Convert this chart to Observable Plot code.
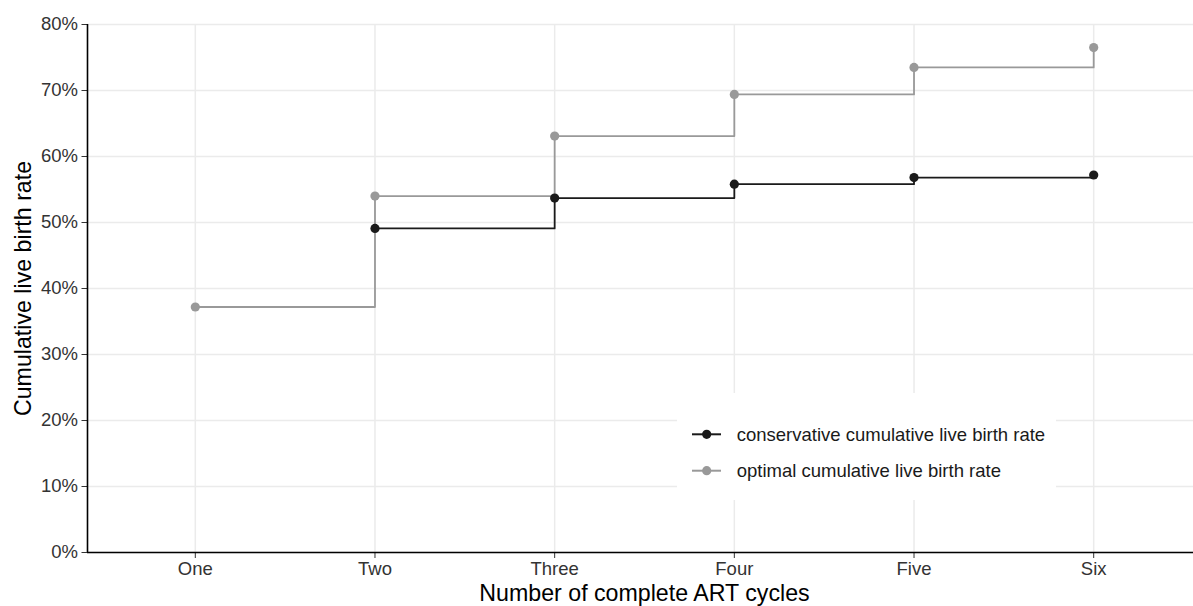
<!DOCTYPE html>
<html>
<head>
<meta charset="utf-8">
<script src="https://cdn.jsdelivr.net/npm/d3@7"></script>
<script src="https://cdn.jsdelivr.net/npm/@observablehq/plot@0.6"></script>
<style>
  html, body { margin: 0; padding: 0; background: #fff; }
  #wrap { position: relative; width: 1193px; height: 606px; overflow: hidden; font-family: "Liberation Sans", Arial, Helvetica, sans-serif; }
  #legend { position: absolute; left: 677px; top: 393px; }
</style>
</head>
<body>
<div id="wrap"></div>
<script>
// ---- data ----
const cycles = ["One", "Two", "Three", "Four", "Five", "Six"];
const conservative = [null, 0.491, 0.537, 0.558, 0.568, 0.572];
const optimal = [0.372, 0.540, 0.631, 0.694, 0.735, 0.765];
const seriesNames = ["conservative cumulative live birth rate", "optimal cumulative live birth rate"];
const seriesColors = ["#1a1a1a", "#999999"];
const yTicks = [0, 0.1, 0.2, 0.3, 0.4, 0.5, 0.6, 0.7, 0.8];
const xTitle = "Number of complete ART cycles";
const yTitle = "Cumulative live birth rate";

// table built from the arrays (optimal first so conservative draws on top)
const rows = [];
optimal.forEach((v, i) => { if (v != null) rows.push({cycle: i + 1, value: v, series: seriesNames[1]}); });
conservative.forEach((v, i) => { if (v != null) rows.push({cycle: i + 1, value: v, series: seriesNames[0]}); });

const W = 1193, H = 606;
const font = "Liberation Sans, Arial, Helvetica, sans-serif";
const tickFont = 18.5, titleFont = 23.2;

const chart = Plot.plot({
  width: W,
  height: H,
  marginLeft: 87,
  marginRight: 0,
  marginTop: 24,
  marginBottom: 54,
  style: {fontFamily: font, fontSize: tickFont + "px", background: "white", color: "#333"},
  x: {type: "linear", domain: [0.4, 6.6], range: [87, 1201]},
  y: {domain: [0, 0.8], range: [552, 24]},
  color: {domain: seriesNames, range: seriesColors},
  marks: [
    // grid
    Plot.ruleY(yTicks, {y: d => d, stroke: "#ebebeb", strokeWidth: 1.5}),
    Plot.ruleX(d3.range(1, cycles.length + 1), {x: d => d, y1: 0, y2: 0.8, stroke: "#ebebeb", strokeWidth: 1.5}),
    // axes
    Plot.axisY({ticks: yTicks, tickFormat: d => Math.round(d * 100) + "%", tickSize: 5.5, tickPadding: 4,
      stroke: "#333", fill: "#333", fontSize: tickFont + "px", label: null}),
    Plot.axisX({ticks: d3.range(1, cycles.length + 1), tickFormat: d => cycles[d - 1], tickSize: 6, tickPadding: 3.5,
      stroke: "#333", fill: "#333", fontSize: tickFont + "px", label: null}),
    Plot.ruleY([0], {stroke: "black", strokeWidth: 1.6}),
    Plot.ruleX([0.4], {y1: 0, y2: 0.8, stroke: "black", strokeWidth: 1.6}),
    // data
    Plot.line(rows, {x: "cycle", y: "value", z: "series", stroke: "series", curve: "step-after", strokeWidth: 1.8}),
    Plot.dot(rows, {x: "cycle", y: "value", fill: "series", r: 4.6, stroke: null}),
    // titles
    Plot.text([xTitle], {x: 3.5, frameAnchor: "bottom", text: d => d, dy: 41, lineAnchor: "middle",
      textAnchor: "middle", fontSize: titleFont, fill: "black"}),
    Plot.text([yTitle], {y: 0.4, frameAnchor: "left", text: d => d, dx: -64, rotate: -90, lineAnchor: "middle",
      textAnchor: "middle", fontSize: titleFont, fill: "black"})
  ]
});

const wrap = document.getElementById("wrap");
wrap.appendChild(chart);

// legend overlay
const lg = d3.select(wrap).append("svg").attr("id", "legend")
  .attr("width", 379).attr("height", 107).style("font-family", font);
lg.append("rect").attr("width", 379).attr("height", 107).attr("fill", "white");
const rowY = [41.3, 77.7];
seriesNames.forEach((name, i) => {
  const g = lg.append("g").attr("transform", `translate(0,${rowY[i]})`);
  g.append("line").attr("x1", 15).attr("x2", 44).attr("y1", 0).attr("y2", 0)
    .attr("stroke", seriesColors[i]).attr("stroke-width", 2);
  g.append("circle").attr("cx", 29.7).attr("cy", 0).attr("r", 4.6).attr("fill", seriesColors[i]);
  g.append("text").attr("x", 59.7).attr("y", 6.6).attr("font-size", tickFont + "px").attr("fill", "#1a1a1a").text(name);
});
</script>
</body>
</html>
